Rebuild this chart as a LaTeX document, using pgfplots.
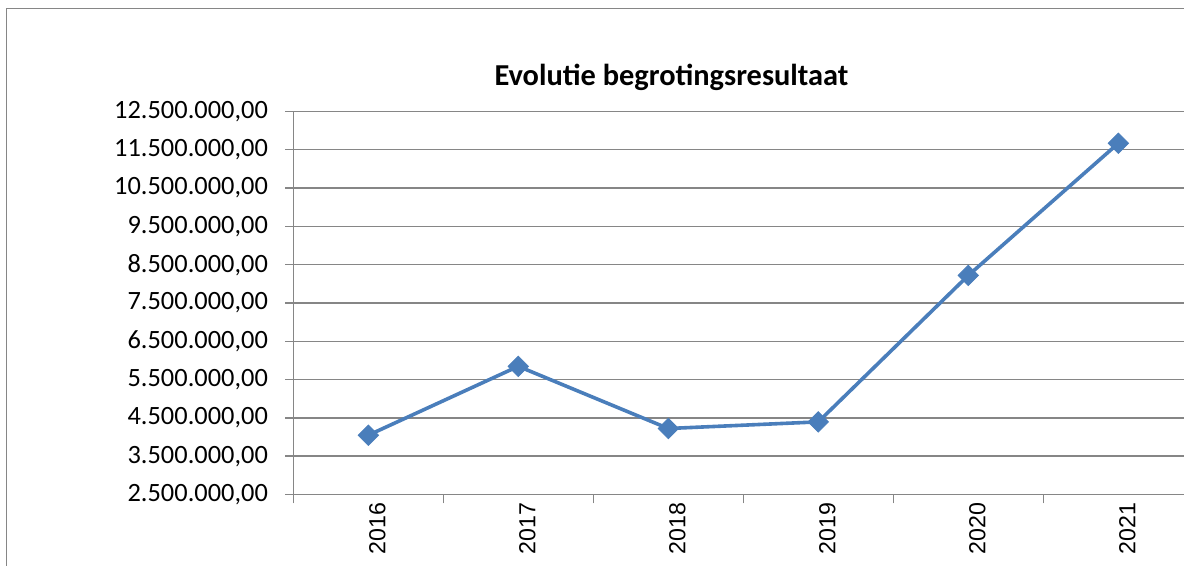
\documentclass[border=0pt]{standalone}
\usepackage{pgfplots}
\pgfplotsset{compat=1.18}
\usepackage{fontspec}
\setmainfont{Carlito}
\newfontfamily\arialfont{Liberation Sans}
\definecolor{linec}{RGB}{74,126,187}
\definecolor{gridc}{RGB}{134,134,134}
\begin{document}
\begin{tikzpicture}[x=1pt,y=1pt]
\useasboundingbox (0,0) rectangle (592,-283);
\clip (0,0) rectangle (592,-283);
\draw[gridc, line width=0.7pt] (3.35,-600) -- (3.35,-4.35) -- (800,-4.35);
\node[anchor=base, font=\bfseries\fontsize{15.2}{18}\selectfont] at (335.75,-43) {Evolutie begrotingsresultaat};
\begin{axis}[
  at={(146.65pt,-247.25pt)}, anchor=south west,
  scale only axis, width=450pt, height=191.5pt,
  xmin=-0.5, xmax=5.5, ymin=2500000, ymax=12500000,
  xtick={0,1,2,3,4,5},
  xticklabels={2016,2017,2018,2019,2020,2021},
  minor xtick={-0.5,0.5,1.5,2.5,3.5,4.5,5.5},
  major x tick style={draw=none},
  ytick={2500000,3500000,4500000,5500000,6500000,7500000,8500000,9500000,10500000,11500000,12500000},
  yticklabels={{2.500.000,00},{3.500.000,00},{4.500.000,00},{5.500.000,00},{6.500.000,00},{7.500.000,00},{8.500.000,00},{9.500.000,00},{10.500.000,00},{11.500.000,00},{12.500.000,00}},
  scaled y ticks=false,
  tick align=outside,
  xtick pos=bottom, ytick pos=left,
  major tick length=4pt, minor tick length=4.5pt,
  tick style={gridc, line width=0.7pt},
  ymajorgrids,
  grid style={gridc, line width=0.7pt},
  axis line style={gridc, line width=0.7pt},
  xticklabel style={rotate=90, anchor=east, inner sep=0pt, yshift=-4.5pt, font=\arialfont\fontsize{11.6}{13}\selectfont},
  yticklabel style={anchor=east, inner sep=0pt, xshift=-8.5pt, font=\fontsize{13.2}{15}\selectfont},
]
\addplot[linec, line width=1.8pt, mark=square*, mark size=3.6pt,
  mark options={rotate=45, fill=linec, draw=linec, line width=0.4pt, solid}]
  coordinates {(0,4048000) (1,5847000) (2,4223000) (3,4396000) (4,8220000) (5,11670000)};
\end{axis}
\end{tikzpicture}
\end{document}
